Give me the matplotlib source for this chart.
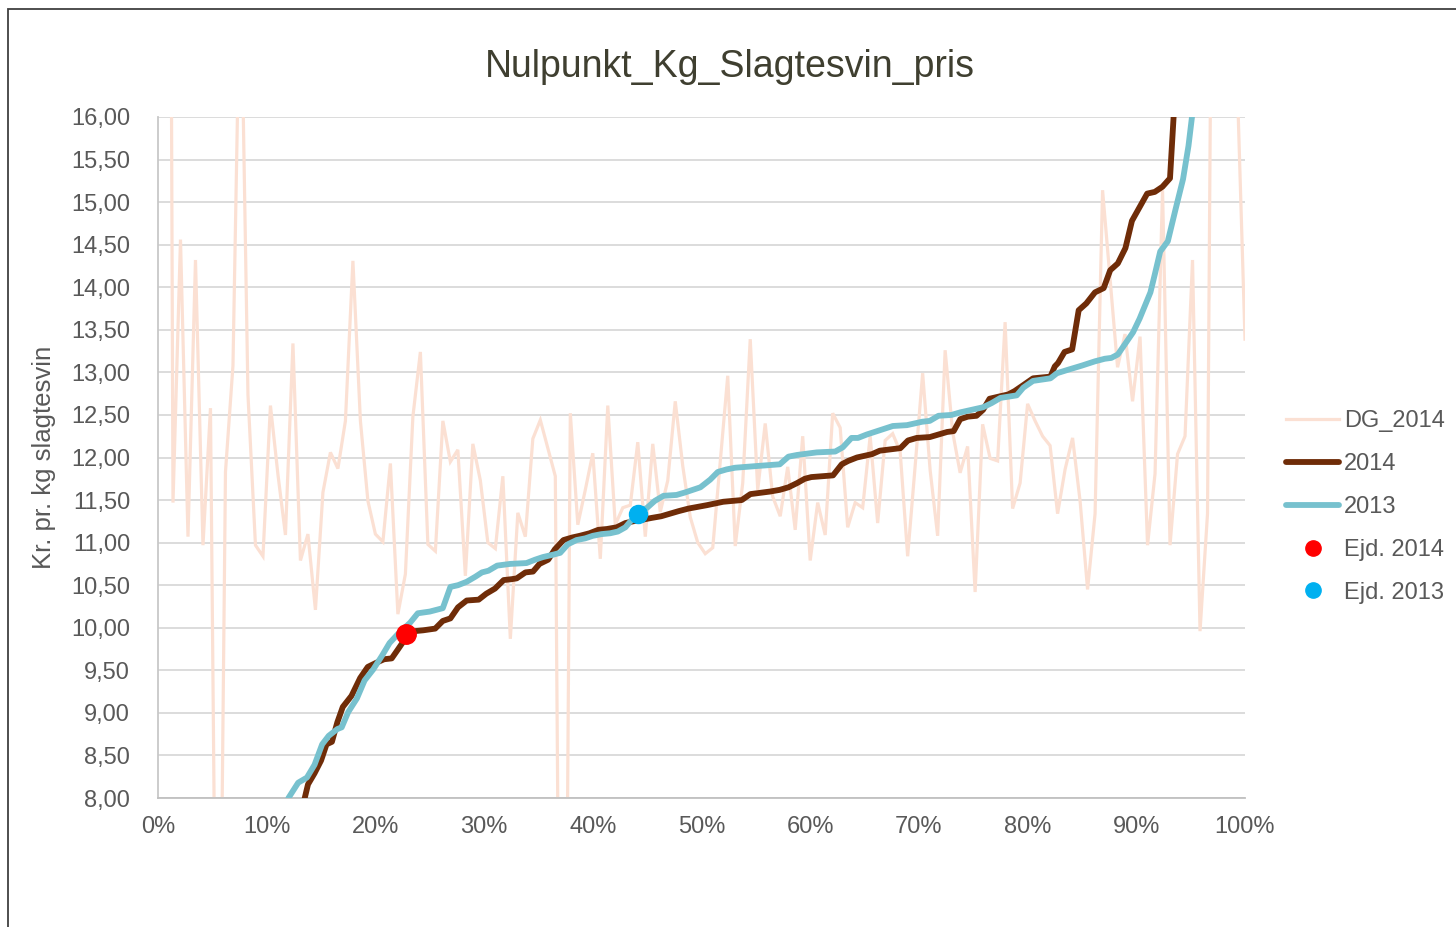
import matplotlib
matplotlib.use("Agg")
import matplotlib.pyplot as plt
from matplotlib.lines import Line2D
from matplotlib.patches import Rectangle
from matplotlib.ticker import FuncFormatter, MultipleLocator
import numpy as np

plt.rcParams['font.family'] = ['Liberation Sans', 'DejaVu Sans']

# ---------------- data ----------------
title = "Nulpunkt_Kg_Slagtesvin_pris"
ylabel = "Kr. pr. kg slagtesvin"

# DG_2014: 145 farms, evenly spaced at i/145
dg_2014 = [35.0, 11.47, 14.56, 11.07, 14.32, 10.97, 12.58, 3.0, 11.83, 13.08,
           18.0, 12.74, 10.97, 10.84, 12.61, 11.80, 11.09, 13.34, 10.79, 11.10,
           10.21, 11.59, 12.06, 11.87, 12.43, 14.31, 12.43, 11.49, 11.10, 11.01,
           11.93, 10.16, 10.63, 12.48, 13.24, 10.98, 10.90, 12.43, 11.95, 12.09,
           10.61, 12.16, 11.73, 11.00, 10.93, 11.78, 9.87, 11.35, 11.07, 12.22,
           12.44, 12.11, 11.78, 0.0, 12.52, 11.21, 11.62, 12.05, 10.81, 12.61,
           11.21, 11.41, 11.44, 12.18, 11.07, 12.16, 11.36, 11.73, 12.66, 11.90,
           11.30, 11.00, 10.87, 10.94, 11.95, 12.96, 10.96, 11.70, 13.39, 11.62,
           12.40, 11.54, 11.31, 11.89, 11.15, 12.25, 10.79, 11.47, 11.09, 12.52,
           12.35, 11.18, 11.47, 11.41, 12.25, 11.23, 12.20, 12.28, 12.07, 10.84,
           11.90, 12.99, 11.85, 11.08, 13.26, 12.30, 11.82, 12.13, 10.42, 12.39,
           11.99, 11.96, 13.59, 11.40, 11.70, 12.63, 12.43, 12.25, 12.14, 11.34,
           11.86, 12.23, 11.49, 10.45, 11.34, 15.14, 14.10, 13.06, 13.45, 12.66,
           13.42, 10.97, 11.81, 15.14, 10.97, 12.04, 12.25, 14.32, 9.96, 11.34,
           24.0, 20.0, 18.0, 16.3, 13.39]
dg_x = [(i + 1) / len(dg_2014) for i in range(len(dg_2014))]

# 2014 curve (percent of farms, value)
x_2014 = [12.9, 13.5, 13.8, 14.4, 15.0, 15.5, 16.0, 16.5, 17.0, 17.8, 18.6, 19.3,
          20.1, 20.8, 21.5, 22.1, 22.9, 23.6, 24.4, 25.5, 26.2, 26.9, 27.6, 28.4,
          29.5, 30.2, 31.0, 31.8, 32.5, 33.0, 33.8, 34.5, 35.1, 35.9, 36.5, 37.3,
          38.1, 38.8, 39.7, 40.5, 41.3, 42.2, 43.0, 43.7, 44.6, 45.4, 46.3, 47.1,
          47.9, 48.8, 50.5, 52.0, 53.7, 54.5, 56.3, 57.2, 58.0, 58.8, 59.5, 60.1,
          62.1, 62.9, 63.5, 64.3, 65.0, 65.7, 66.4, 68.3, 69.0, 69.8, 71.0, 72.6,
          73.2, 73.8, 74.5, 75.3, 75.9, 76.5, 77.5, 78.2, 78.8, 79.6, 80.5, 82.1,
          82.5, 82.8, 83.4, 84.1, 84.7, 85.4, 86.2, 87.0, 87.6, 88.3, 89.0, 89.6,
          90.3, 91.0, 91.7, 92.4, 93.1, 93.8, 94.5, 95.2, 96.5, 98.0, 100.0]
y_2014 = [7.55, 8.00, 8.16, 8.29, 8.44, 8.63, 8.66, 8.89, 9.07, 9.20, 9.41, 9.54,
          9.59, 9.63, 9.64, 9.75, 9.90, 9.96, 9.97, 9.99, 10.08, 10.11, 10.24, 10.32,
          10.33, 10.40, 10.46, 10.56, 10.57, 10.58, 10.65, 10.66, 10.75, 10.80, 10.92, 11.03,
          11.06, 11.08, 11.11, 11.15, 11.16, 11.18, 11.23, 11.25, 11.27, 11.29, 11.31, 11.34,
          11.37, 11.40, 11.44, 11.48, 11.50, 11.57, 11.60, 11.62, 11.65, 11.70, 11.75, 11.77,
          11.79, 11.92, 11.96, 12.00, 12.02, 12.04, 12.08, 12.11, 12.20, 12.23, 12.24, 12.30,
          12.31, 12.45, 12.48, 12.49, 12.56, 12.69, 12.72, 12.74, 12.78, 12.85, 12.93, 12.95,
          13.07, 13.11, 13.24, 13.27, 13.73, 13.81, 13.94, 13.99, 14.20, 14.28, 14.46, 14.78,
          14.94, 15.10, 15.12, 15.18, 15.28, 16.80, 18.50, 20.50, 24.0, 28.0, 35.0]

# 2013 curve
x_2013 = [11.4, 12.0, 12.9, 13.7, 14.4, 15.1, 15.7, 16.5, 16.9, 17.5, 18.3, 19.0,
          19.8, 20.6, 21.3, 22.1, 23.2, 23.9, 25.0, 26.2, 26.9, 27.6, 28.4, 29.2,
          29.8, 30.4, 31.2, 32.4, 33.9, 34.7, 35.4, 36.4, 37.0, 37.7, 38.5, 39.3,
          40.0, 40.8, 41.6, 42.3, 43.0, 44.2, 45.0, 45.7, 46.5, 47.7, 48.5, 49.9,
          50.8, 51.5, 52.3, 53.1, 55.1, 57.2, 58.0, 58.8, 60.6, 62.3, 63.0, 63.8,
          64.4, 65.2, 66.4, 67.6, 68.9, 70.3, 71.0, 71.8, 73.0, 73.8, 75.9, 76.7,
          77.5, 79.0, 79.6, 80.5, 82.1, 82.7, 83.7, 85.0, 86.2, 87.1, 87.7, 88.3,
          89.0, 89.7, 90.3, 91.3, 91.7, 92.2, 92.9, 93.6, 94.3, 94.8, 95.5, 96.2,
          97.0, 98.5, 100.0]
y_2013 = [7.60, 8.00, 8.18, 8.24, 8.39, 8.63, 8.73, 8.81, 8.83, 9.01, 9.17, 9.38,
          9.51, 9.67, 9.82, 9.93, 10.06, 10.17, 10.19, 10.23, 10.48, 10.50, 10.54, 10.60,
          10.65, 10.67, 10.73, 10.75, 10.76, 10.80, 10.83, 10.86, 10.88, 10.98, 11.03, 11.05,
          11.08, 11.10, 11.11, 11.13, 11.18, 11.36, 11.41, 11.49, 11.55, 11.56, 11.59, 11.65,
          11.74, 11.83, 11.86, 11.88, 11.90, 11.92, 12.01, 12.03, 12.06, 12.07, 12.12, 12.23,
          12.23, 12.27, 12.32, 12.37, 12.38, 12.42, 12.43, 12.49, 12.50, 12.53, 12.59, 12.64,
          12.70, 12.73, 12.82, 12.90, 12.93, 12.99, 13.03, 13.08, 13.13, 13.16, 13.17, 13.21,
          13.34, 13.47, 13.63, 13.94, 14.15, 14.42, 14.54, 14.91, 15.27, 15.66, 16.40, 17.60,
          19.0, 23.0, 30.0]

ejd_2014 = (22.8, 9.93)
ejd_2013 = (44.2, 11.335)

labels = ["DG_2014", "2014", "2013", "Ejd. 2014", "Ejd. 2013"]

# ---------------- style ----------------
c_dg = "#FBE0D3"
c_2014 = "#6F2C08"
c_2013 = "#77C1CE"
c_e14 = "#FF0000"
c_e13 = "#00B0F0"
txt = "#595959"

fig = plt.figure(figsize=(14.56, 9.27), dpi=100)
ax = fig.add_axes([158 / 1456, 1 - 798 / 927, (1245 - 158) / 1456, (798 - 117) / 927])

ax.plot(dg_x, dg_2014, color=c_dg, lw=2.3, solid_joinstyle='miter', zorder=2)
ax.plot(np.array(x_2014) / 100, y_2014, color=c_2014, lw=4.2, zorder=3)
ax.plot(np.array(x_2013) / 100, y_2013, color=c_2013, lw=4.2, zorder=4)
ax.plot([ejd_2014[0] / 100], [ejd_2014[1]], 'o', color=c_e14, ms=14, zorder=5)
ax.plot([ejd_2013[0] / 100], [ejd_2013[1]], 'o', color=c_e13, ms=13, zorder=5)

ax.set_xlim(0, 1)
ax.set_ylim(8, 16)
ax.xaxis.set_major_locator(MultipleLocator(0.1))
ax.yaxis.set_major_locator(MultipleLocator(0.5))
ax.xaxis.set_major_formatter(FuncFormatter(lambda v, p: f"{v*100:.0f}%"))
ax.yaxis.set_major_formatter(FuncFormatter(lambda v, p: f"{v:.2f}".replace('.', ',')))
ax.tick_params(axis='x', length=0, pad=13, labelsize=17, labelcolor=txt)
ax.tick_params(axis='y', length=0, pad=20, labelsize=17, labelcolor=txt)
ax.grid(axis='y', color='#D9D9D9', lw=1.3, zorder=0)
ax.set_axisbelow(True)
for s in ['top', 'right']:
    ax.spines[s].set_visible(False)
ax.spines['left'].set_color('#C8C8C8')
ax.spines['bottom'].set_color('#C0C0C0')
ax.spines['left'].set_linewidth(1.3)
ax.spines['bottom'].set_linewidth(1.3)

ax.set_ylabel(ylabel, fontsize=18.5, color=txt)
ax.yaxis.set_label_coords((56 - 158) / 1087, 0.5)

fig.text(730 / 1456, 1 - 67 / 927, title, fontsize=27, color='#3F3F30',
         ha='center', va='center')

handles = [
    Line2D([], [], color=c_dg, lw=2.3),
    Line2D([], [], color=c_2014, lw=4.2, solid_capstyle='round'),
    Line2D([], [], color=c_2013, lw=4.2, solid_capstyle='round'),
    Line2D([], [], marker='o', ls='none', color=c_e14, ms=11),
    Line2D([], [], marker='o', ls='none', color=c_e13, ms=11),
]
leg = fig.legend(handles, labels, loc='center left',
                 bbox_to_anchor=(1286 / 1456, 1 - 507 / 927),
                 frameon=False, fontsize=17, handlelength=2.25,
                 handletextpad=0.2, labelspacing=0.88, borderpad=0,
                 borderaxespad=0)
for t in leg.get_texts():
    t.set_color(txt)

# chart area border (cropped at right/bottom)
fig.patches.append(Rectangle((8 / 1456, -0.1), 1.2, 1 - 9 / 927 + 0.1,
                             transform=fig.transFigure, fill=False,
                             edgecolor='#404040', lw=1.3))

fig.savefig("out.png", dpi=100)
